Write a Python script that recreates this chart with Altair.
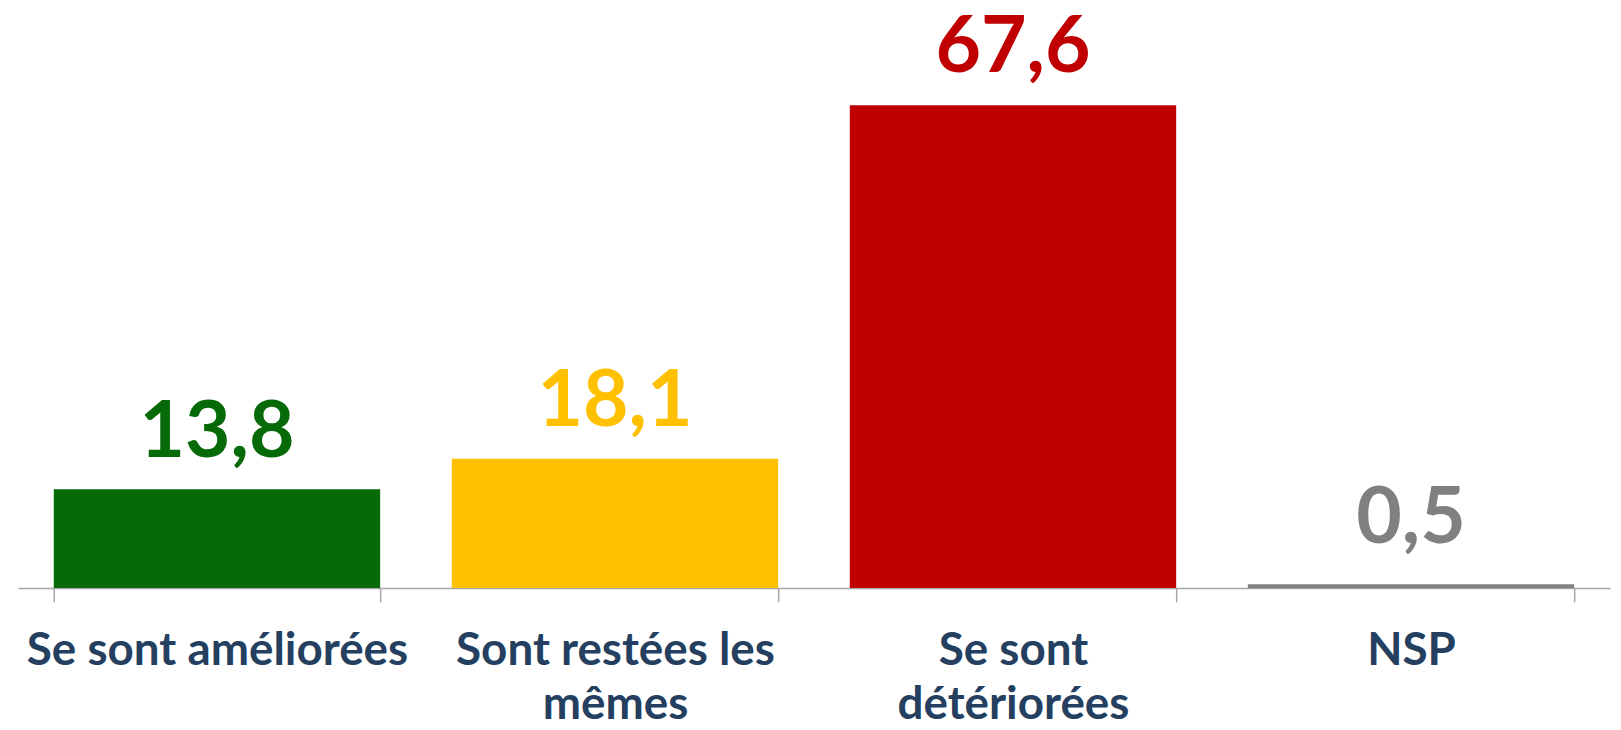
import altair as alt
import pandas as pd

categories = ["Se sont améliorées", "Sont restées les\nmêmes", "Se sont\ndétériorées", "NSP"]
values = [13.8, 18.1, 67.6, 0.5]
colors = ["#066A08", "#FFC000", "#C00000", "#808080"]

df = pd.DataFrame({"cat": categories, "value": values, "color": colors})

FONT = "Lato"

base = alt.Chart(df).transform_calculate(
    lab="replace(format(datum.value, '.1f'), '.', ',')",
    ly="max(datum.value, 1.75)",
)

x = alt.X(
    "cat:N",
    sort=categories,
    scale=alt.Scale(paddingInner=0.18, paddingOuter=0.09),
    axis=alt.Axis(
        title=None,
        labelAngle=0,
        labelExpr="split(datum.label, '\\n')",
        labelFont=FONT,
        labelFontSize=46,
        labelFontWeight="bold",
        labelColor="#243F60",
        labelLineHeight=54,
        labelPadding=27,
        labelBaseline="top",
        labelLimit=0,
        tickBand="extent",
        tickSize=14,
        tickColor="#A6A6A6",
        tickWidth=1.5,
        domainColor="#A6A6A6",
        domainWidth=1.5,
        grid=False,
    ),
)

yscale = alt.Scale(domain=[0, 79.86], nice=False)

bars = base.mark_bar().encode(
    x=x,
    y=alt.Y("value:Q", scale=yscale, axis=None),
    color=alt.Color("color:N", scale=None),
)

text = base.mark_text(
    font=FONT, fontSize=79, fontWeight="bold", baseline="alphabetic", dy=-33
).encode(
    x=alt.X("cat:N", sort=categories),
    y=alt.Y("ly:Q", scale=yscale),
    text="lab:N",
    color=alt.Color("color:N", scale=None),
)

chart = (
    alt.layer(bars, text)
    .properties(
        width=1600,
        height=573,
        autosize=alt.AutoSizeParams(type="none"),
        padding={"left": 10, "top": 8, "right": 3, "bottom": 133},
    )
    .configure_view(stroke=None)
)

chart.save("out.html", embed_options={"renderer": "svg", "actions": False})
